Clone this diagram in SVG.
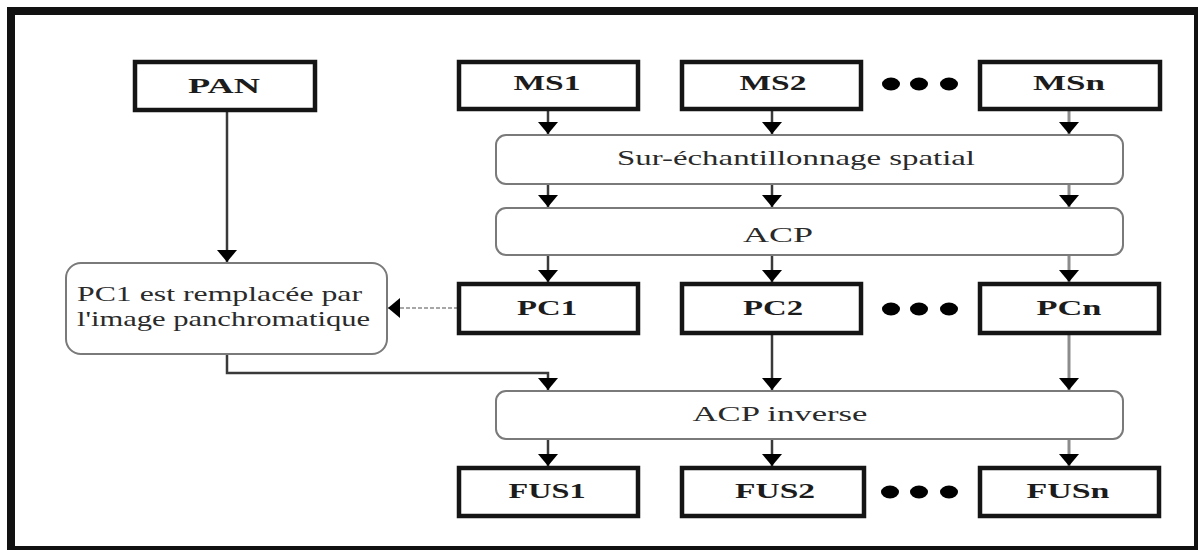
<svg xmlns="http://www.w3.org/2000/svg" width="1198" height="550" viewBox="0 0 1198 550">
  <style>
    .box { fill: #fff; stroke: #151515; stroke-width: 4.5; }
    .rbox { fill: #fff; stroke: #7a7a7a; stroke-width: 2; }
    .lbl { font-family: "Liberation Serif", "Times New Roman", serif; font-size: 22px; font-weight: bold; fill: #1c1c1c; text-anchor: middle; }
    .txt { font-family: "Liberation Serif", "Times New Roman", serif; font-size: 22px; fill: #2a2a2a; }
    .mid { text-anchor: middle; }
    .stem { fill: none; stroke: #3a3a3a; stroke-width: 2.5; marker-end: url(#head); }
    .stem-r { fill: none; stroke: #8c8c8c; stroke-width: 3; marker-end: url(#head); }
    .dash { fill: none; stroke: #8a8a8a; stroke-width: 1.5; stroke-dasharray: 4 2; marker-end: url(#head); }
    .dot { fill: #000; }
    .frame { fill: #111; }
  </style>
  <defs>
    <marker id="head" viewBox="0 0 12 20" refX="12" refY="10" markerWidth="12" markerHeight="20" markerUnits="userSpaceOnUse" orient="auto">
      <path d="M0,0 L12,10 L0,20 Z" fill="#000"/>
    </marker>
  </defs>

  <rect width="1198" height="550" fill="#fff"/>

  <!-- outer frame -->
  <g id="frame">
    <rect class="frame" x="7" y="7" width="1191" height="8"/>
    <rect class="frame" x="7" y="7" width="8" height="543"/>
    <rect class="frame" x="1194" y="7" width="4" height="543"/>
    <rect class="frame" x="7" y="546" width="1191" height="4"/>
  </g>

  <!-- connectors -->
  <g id="connectors">
    <path class="stem" d="M227,111 V262"/>
    <path class="dash" d="M458,308 H388"/>
    <path class="stem" d="M227,354 V373 H548 V390"/>

    <path class="stem" d="M548,110 V134"/>
    <path class="stem" d="M772,110 V134"/>
    <path class="stem-r" d="M1069,110 V134"/>

    <path class="stem" d="M548,184 V207"/>
    <path class="stem" d="M772,184 V207"/>
    <path class="stem-r" d="M1069,184 V207"/>

    <path class="stem" d="M548,255 V282"/>
    <path class="stem" d="M772,255 V282"/>
    <path class="stem-r" d="M1069,255 V282"/>

    <path class="stem" d="M772,334 V390"/>
    <path class="stem-r" d="M1069,334 V390"/>

    <path class="stem" d="M548,439 V466"/>
    <path class="stem" d="M772,439 V466"/>
    <path class="stem-r" d="M1069,439 V466"/>
  </g>

  <g id="pan">
    <rect class="box" x="135" y="62" width="180" height="48"/>
    <text class="lbl" x="224" y="93" textLength="72" lengthAdjust="spacingAndGlyphs">PAN</text>
  </g>

  <g id="ms1">
    <rect class="box" x="459" y="62" width="179" height="47"/>
    <text class="lbl" x="547" y="90" textLength="67" lengthAdjust="spacingAndGlyphs">MS1</text>
  </g>
  <g id="ms2">
    <rect class="box" x="682" y="62" width="179" height="47"/>
    <text class="lbl" x="773" y="90" textLength="67" lengthAdjust="spacingAndGlyphs">MS2</text>
  </g>
  <g id="ms-dots">
    <ellipse class="dot" cx="891" cy="84" rx="9" ry="6.5"/>
    <ellipse class="dot" cx="919" cy="84" rx="9" ry="6.5"/>
    <ellipse class="dot" cx="949" cy="84" rx="9" ry="6.5"/>
  </g>
  <g id="msn">
    <rect class="box" x="980" y="62" width="180" height="47"/>
    <text class="lbl" x="1069" y="90" textLength="72" lengthAdjust="spacingAndGlyphs">MSn</text>
  </g>

  <g id="surechantillonnage">
    <rect class="rbox" x="496" y="135" width="627" height="49" rx="10"/>
    <text class="txt mid" x="796" y="165" textLength="358" lengthAdjust="spacingAndGlyphs">Sur-échantillonnage spatial</text>
  </g>

  <g id="acp">
    <rect class="rbox" x="496" y="208" width="627" height="47" rx="10"/>
    <text class="txt mid" x="778" y="242" textLength="70" lengthAdjust="spacingAndGlyphs">ACP</text>
  </g>

  <g id="remplacement">
    <rect class="rbox" x="66" y="263" width="321" height="91" rx="15"/>
    <text class="txt" x="77" y="301" textLength="285" lengthAdjust="spacingAndGlyphs">PC1 est remplacée par</text>
    <text class="txt" x="77" y="326" textLength="293" lengthAdjust="spacingAndGlyphs">l'image panchromatique</text>
  </g>

  <g id="pc1">
    <rect class="box" x="459" y="284" width="179" height="49"/>
    <text class="lbl" x="547" y="315" textLength="60" lengthAdjust="spacingAndGlyphs">PC1</text>
  </g>
  <g id="pc2">
    <rect class="box" x="682" y="284" width="179" height="49"/>
    <text class="lbl" x="773" y="315" textLength="60" lengthAdjust="spacingAndGlyphs">PC2</text>
  </g>
  <g id="pc-dots">
    <ellipse class="dot" cx="891" cy="309" rx="9" ry="6.5"/>
    <ellipse class="dot" cx="919" cy="309" rx="9" ry="6.5"/>
    <ellipse class="dot" cx="949" cy="309" rx="9" ry="6.5"/>
  </g>
  <g id="pcn">
    <rect class="box" x="980" y="284" width="179" height="49"/>
    <text class="lbl" x="1069" y="315" textLength="65" lengthAdjust="spacingAndGlyphs">PCn</text>
  </g>

  <g id="acp-inverse">
    <rect class="rbox" x="496" y="391" width="627" height="48" rx="10"/>
    <text class="txt mid" x="780" y="421" textLength="175" lengthAdjust="spacingAndGlyphs">ACP inverse</text>
  </g>

  <g id="fus1">
    <rect class="box" x="459" y="468" width="179" height="48"/>
    <text class="lbl" x="547" y="498" textLength="77" lengthAdjust="spacingAndGlyphs">FUS1</text>
  </g>
  <g id="fus2">
    <rect class="box" x="682" y="468" width="182" height="48"/>
    <text class="lbl" x="775" y="498" textLength="80" lengthAdjust="spacingAndGlyphs">FUS2</text>
  </g>
  <g id="fus-dots">
    <ellipse class="dot" cx="890" cy="492" rx="9" ry="6.5"/>
    <ellipse class="dot" cx="919" cy="492" rx="9" ry="6.5"/>
    <ellipse class="dot" cx="949" cy="492" rx="9" ry="6.5"/>
  </g>
  <g id="fusn">
    <rect class="box" x="980" y="468" width="179" height="48"/>
    <text class="lbl" x="1068" y="498" textLength="83" lengthAdjust="spacingAndGlyphs">FUSn</text>
  </g>
</svg>
